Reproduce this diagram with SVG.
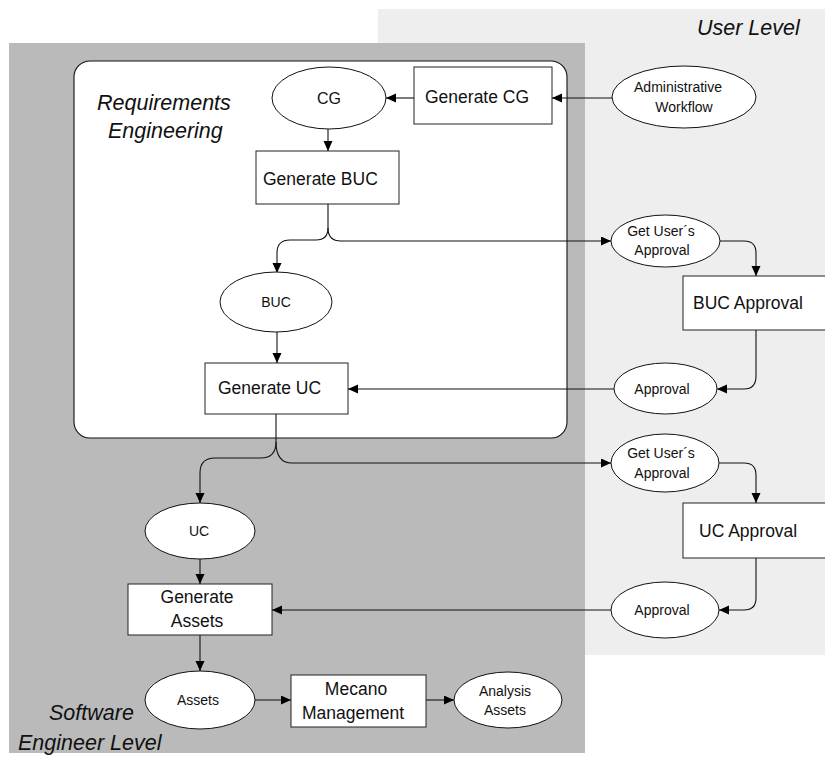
<svg xmlns="http://www.w3.org/2000/svg" width="825" height="758" viewBox="0 0 825 758">
<style>
.box{fill:#fff;stroke:#222;stroke-width:1}
.ell{fill:#fff;stroke:#111;stroke-width:1}
.t{font-family:"Liberation Sans",Arial,sans-serif;fill:#111}
.lg{font-size:17.5px}
.sm{font-size:14px}
.lvl{font-family:"Liberation Sans",Arial,sans-serif;font-style:italic;font-size:21.5px;fill:#111}
.c{fill:none;stroke:#111;stroke-width:1.1}
</style>
<defs>
<marker id="ah" markerUnits="userSpaceOnUse" markerWidth="11" markerHeight="10" refX="10" refY="4.5" orient="auto">
<path d="M0,0 L10,4.5 L0,9 z" fill="#000"/>
</marker>
</defs>
<g id="user-level">
<rect x="378" y="9" width="447" height="646" fill="#eeeeee"/>
<text class="lvl" x="697" y="35">User Level</text>
</g>
<g id="software-engineer-level">
<rect x="9" y="43" width="576" height="710" fill="#bababa"/>
<text class="lvl" x="49" y="720">Software</text>
<text class="lvl" x="18" y="750">Engineer Level</text>
</g>
<g id="requirements-engineering">
<rect x="74" y="61" width="493" height="377" rx="16" fill="#fff" stroke="#111" stroke-width="1.1"/>
<text class="lvl" x="97" y="110">Requirements</text>
<text class="lvl" x="108" y="138">Engineering</text>
</g>
<g id="connectors">
<path class="c" d="M612,98 H552" marker-end="url(#ah)"/>
<path class="c" d="M414,98 H386" marker-end="url(#ah)"/>
<path class="c" d="M328,129 V151" marker-end="url(#ah)"/>
<path class="c" d="M328,204 V228 Q328,240 316,240 H290 Q277,240 277,253 V273" marker-end="url(#ah)"/>
<path class="c" d="M328,228 Q328,241 341,241 H611" marker-end="url(#ah)"/>
<path class="c" d="M720,241 H744 Q756,241 756,253 V276" marker-end="url(#ah)"/>
<path class="c" d="M756,330 V376 Q756,389 744,389 H717" marker-end="url(#ah)"/>
<path class="c" d="M614,389 H348" marker-end="url(#ah)"/>
<path class="c" d="M277,332 V363" marker-end="url(#ah)"/>
<path class="c" d="M276,414 V442 Q276,458 261,458 H215 Q200,458 200,473 V503" marker-end="url(#ah)"/>
<path class="c" d="M276,442 Q276,463 292,463 H611" marker-end="url(#ah)"/>
<path class="c" d="M719,463 H744 Q756,463 756,475 V503" marker-end="url(#ah)"/>
<path class="c" d="M756,558 V598 Q756,610 744,610 H719" marker-end="url(#ah)"/>
<path class="c" d="M611,610 H272" marker-end="url(#ah)"/>
<path class="c" d="M200,559 V584" marker-end="url(#ah)"/>
<path class="c" d="M200,635 V671" marker-end="url(#ah)"/>
<path class="c" d="M255,700 H291" marker-end="url(#ah)"/>
<path class="c" d="M426,700 H454" marker-end="url(#ah)"/>
</g>
<g id="cg">
<ellipse class="ell" cx="329" cy="98" rx="57" ry="31"/>
<text class="t" x="329" y="104" font-size="16" text-anchor="middle">CG</text>
</g>
<g id="generate-cg">
<rect class="box" x="414" y="67" width="138" height="57"/>
<text class="t lg" x="425" y="103">Generate CG</text>
</g>
<g id="administrative-workflow">
<ellipse class="ell" cx="684" cy="97" rx="72" ry="31"/>
<text class="t sm" x="678" y="92" text-anchor="middle">Administrative</text>
<text class="t sm" x="684" y="112" text-anchor="middle">Workflow</text>
</g>
<g id="generate-buc">
<rect class="box" x="256" y="151" width="143" height="53"/>
<text class="t lg" x="263" y="185">Generate BUC</text>
</g>
<g id="get-users-approval-1">
<ellipse class="ell" cx="665.5" cy="241" rx="54.5" ry="26"/>
<text class="t sm" x="661" y="236" text-anchor="middle">Get User´s</text>
<text class="t sm" x="662" y="255" text-anchor="middle">Approval</text>
</g>
<g id="buc">
<ellipse class="ell" cx="276" cy="302" rx="56" ry="30"/>
<text class="t sm" x="276" y="307" text-anchor="middle">BUC</text>
</g>
<g id="buc-approval">
<rect class="box" x="683" y="276" width="150" height="54"/>
<text class="t lg" x="693" y="309">BUC Approval</text>
</g>
<g id="approval-1">
<ellipse class="ell" cx="665.5" cy="388.5" rx="51.5" ry="25.5"/>
<text class="t sm" x="662" y="394" text-anchor="middle">Approval</text>
</g>
<g id="generate-uc">
<rect class="box" x="205" y="363" width="143" height="51"/>
<text class="t lg" x="218" y="394">Generate UC</text>
</g>
<g id="get-users-approval-2">
<ellipse class="ell" cx="665" cy="463" rx="54" ry="29"/>
<text class="t sm" x="661" y="458" text-anchor="middle">Get User´s</text>
<text class="t sm" x="662" y="478" text-anchor="middle">Approval</text>
</g>
<g id="uc">
<ellipse class="ell" cx="200" cy="531" rx="55" ry="28"/>
<text class="t sm" x="199" y="536" text-anchor="middle">UC</text>
</g>
<g id="uc-approval">
<rect class="box" x="683" y="503" width="150" height="55"/>
<text class="t lg" x="699" y="537">UC Approval</text>
</g>
<g id="approval-2">
<ellipse class="ell" cx="665" cy="610" rx="54" ry="28"/>
<text class="t sm" x="662" y="615" text-anchor="middle">Approval</text>
</g>
<g id="generate-assets">
<rect class="box" x="128" y="584" width="144" height="51"/>
<text class="t lg" x="197" y="603" text-anchor="middle">Generate</text>
<text class="t lg" x="197" y="627" text-anchor="middle">Assets</text>
</g>
<g id="assets">
<ellipse class="ell" cx="200" cy="700" rx="55" ry="29"/>
<text class="t sm" x="198" y="705" text-anchor="middle">Assets</text>
</g>
<g id="mecano-management">
<rect class="box" x="291" y="675" width="135" height="52"/>
<text class="t lg" x="356" y="695" text-anchor="middle">Mecano</text>
<text class="t lg" x="353" y="719" text-anchor="middle">Management</text>
</g>
<g id="analysis-assets">
<ellipse class="ell" cx="508" cy="700" rx="54" ry="28"/>
<text class="t sm" x="505" y="696" text-anchor="middle">Analysis</text>
<text class="t sm" x="505" y="715" text-anchor="middle">Assets</text>
</g>
</svg>
